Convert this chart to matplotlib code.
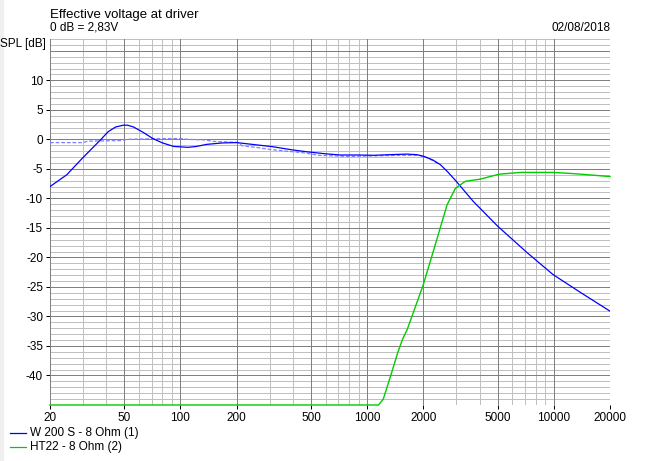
import numpy as np
import matplotlib
matplotlib.use('Agg')
import matplotlib.pyplot as plt
from matplotlib.patches import Rectangle

W, H = 655, 461

# W 200 S - 8 Ohm (1)
woofer_f = [20, 24.6, 30, 37, 41, 45, 49.4, 52, 56, 63, 71, 80, 92, 110, 122, 138, 169, 200,
            250, 313, 400, 474, 600, 717, 900, 1085, 1300, 1640, 1850, 2020, 2250, 2470, 2700,
            3000, 3700, 5000, 7200, 9900, 14000, 20000]
woofer_db = [-8.0, -6.0, -3.1, -0.2, 1.3, 2.1, 2.4, 2.4, 2.1, 1.2, 0.15, -0.6, -1.2, -1.35, -1.2,
             -0.85, -0.6, -0.55, -0.9, -1.25, -1.8, -2.1, -2.45, -2.65, -2.65, -2.7, -2.6, -2.5,
             -2.6, -2.9, -3.5, -4.3, -5.5, -7.1, -10.5, -14.7, -19.2, -22.9, -26.0, -29.1]

# HT22 - 8 Ohm (2)
tweeter_f = [20, 1150, 1220, 1320, 1460, 1550, 1640, 2000, 2360, 2680, 2970, 3360, 4020, 5100,
             6650, 9900, 12700, 20000]
tweeter_db = [-45, -45, -44, -40.6, -36.1, -33.8, -32.2, -24.6, -17.0, -11.1, -8.3, -7.1, -6.75,
              -5.9, -5.6, -5.6, -5.8, -6.3]

# dashed reference curve
ref_f = [20, 30, 32, 48, 52, 70, 100, 110, 135, 150, 200, 215, 260, 300, 370, 450, 550, 800,
         1100, 1500, 1900, 2100, 2400]
ref_db = [-0.55, -0.55, -0.3, -0.2, 0.0, 0.1, 0.15, 0.0, -0.1, -0.35, -0.5, -1.1, -1.4, -1.7,
          -2.0, -2.25, -2.7, -2.9, -2.8, -2.7, -2.7, -3.1, -4.1]

x_major = [20, 50, 100, 200, 500, 1000, 2000, 5000, 10000, 20000]
x_labels = ['20', '50', '100', '200', '500', '1000', '2000', '5000', '10000', '20000']
y_labels = [10, 5, 0, -5, -10, -15, -20, -25, -30, -35, -40]

plt.rcParams['font.family'] = ['Liberation Sans', 'DejaVu Sans']

fig = plt.figure(figsize=(W / 100, H / 100), dpi=100)
fig.patches.append(Rectangle((0, 0), 3 / W, 1, transform=fig.transFigure,
                             color='#f0f0f0', zorder=0))

ax = fig.add_axes([50 / W, 1 - 405 / H, 560 / W, 366 / H])
ax.set_xscale('log')
ax.set_xlim(20, 20000)
ax.set_ylim(-45, 17)

# grid lines drawn by hand to get the two shades, 1 px and not smoothed
g = dict(lw=0.72, antialiased=False)
minor_x = [m * 10 ** d for d in range(1, 5) for m in range(1, 10)]
minor_x = [v for v in minor_x if 20 < v < 20000 and v not in x_major]
for v in minor_x:
    ax.axvline(v, color='#c0c0c0', zorder=1, **g)
for v in range(-44, 18):
    if v % 5:
        ax.axhline(v, color='#c0c0c0', zorder=1, **g)
for v in range(-45, 17, 5):
    ax.axhline(v, color='#808080', zorder=2, **g)
for v in x_major:
    ax.axvline(v, color='#808080', zorder=2, **g)

ax.plot(ref_f, ref_db, color='#8080ff', lw=0.9, dashes=(3, 1.5), zorder=3)
ax.plot(woofer_f, woofer_db, color='#0000ff', lw=0.9, zorder=4)
ax.plot(tweeter_f, tweeter_db, color='#00cc00', lw=1.0, zorder=5, clip_on=False)

for s in ax.spines.values():
    s.set_visible(False)
ax.xaxis.set_minor_locator(matplotlib.ticker.NullLocator())
ax.set_xticks(x_major)
ax.set_xticklabels(x_labels)
ax.set_yticks(y_labels)
ax.set_yticklabels([str(v) for v in y_labels])
ax.tick_params(length=3, width=0.72, color='#000000', labelsize=8.5, pad=2)

def px(x, y, s, **kw):
    fig.text(x / W, 1 - y / H, s, **kw)

px(50, 18, 'Effective voltage at driver', fontsize=9.5, va='baseline')
px(50, 31, '0 dB = 2,83V', fontsize=8.5, va='baseline')
px(610, 31, '02/08/2018', fontsize=8.5, va='baseline', ha='right')
px(46, 47, 'SPL [dB]', fontsize=8.5, va='baseline', ha='right')

# legend
leg = [('W 200 S - 8 Ohm (1)', '#0000ff', 433), ('HT22 - 8 Ohm (2)', '#00cc00', 447)]
for name, col, yy in leg:
    fig.lines.append(plt.Line2D([10 / W, 26 / W], [1 - yy / H] * 2, color=col, lw=0.9,
                                transform=fig.transFigure))
    px(30, yy, name, fontsize=8.5, va='center')

fig.savefig('out.png', dpi=100)
